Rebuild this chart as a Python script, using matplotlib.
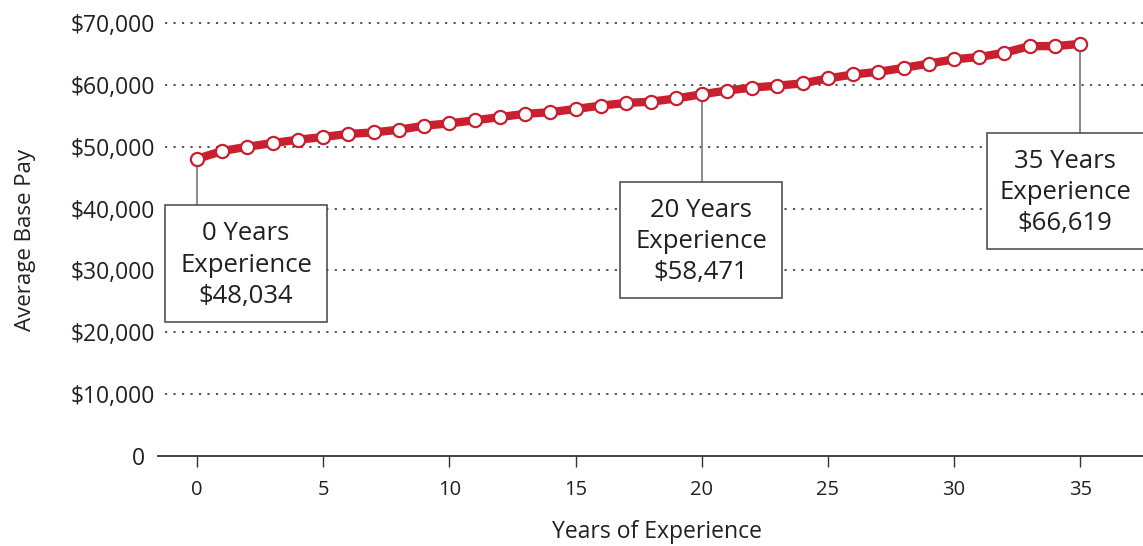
import matplotlib
matplotlib.use("Agg")
import matplotlib.pyplot as plt
from matplotlib.patches import Rectangle
from matplotlib.transforms import ScaledTranslation

years = list(range(0, 36))
pay = [48034, 49310, 50000, 50590, 51130, 51570, 52070, 52310, 52750, 53390,
       53780, 54260, 54790, 55310, 55580, 56100, 56640, 57070, 57280, 57810,
       58471, 59080, 59560, 59870, 60240, 61040, 61680, 62110, 62740, 63430,
       64130, 64500, 65190, 66270, 66260, 66619]
ytick_vals = [0, 10000, 20000, 30000, 40000, 50000, 60000, 70000]
ytick_labels = ["0", "$10,000", "$20,000", "$30,000", "$40,000", "$50,000", "$60,000", "$70,000"]
xtick_vals = [0, 5, 10, 15, 20, 25, 30, 35]
callout_years = [0, 20, 35]

plt.rcParams['font.family'] = ['Open Sans', 'DejaVu Sans']
TXT = '#231f20'
RED = '#c8202f'

W, H = 1143, 546
fig = plt.figure(figsize=(W / 100, H / 100), dpi=100)
ax = fig.add_axes([158 / W, 90 / H, 1 - 158 / W, 1 - 90 / H])
ax.set_xlim(-1.546, 37.49)
ax.set_ylim(0, 73718)

for s in ['top', 'right', 'left']:
    ax.spines[s].set_visible(False)
ax.spines['bottom'].set_color('#333333')
ax.spines['bottom'].set_linewidth(1.3)

ax.set_xticks(xtick_vals)
ax.set_xticklabels([str(v) for v in xtick_vals])
ax.tick_params(axis='x', direction='out', length=8, width=1, color='#333333',
               labelsize=14.5, labelcolor=TXT, pad=9)
ax.set_yticks(ytick_vals)
ax.set_yticklabels(ytick_labels)
ax.tick_params(axis='y', length=0, labelsize=16.5, labelcolor=TXT, pad=2)
zero_lbl = ax.get_yticklabels()[0]
zero_lbl.set_transform(zero_lbl.get_transform() + ScaledTranslation(-0.10, 0, fig.dpi_scale_trans))

ax.hlines(ytick_vals[1:], -1.27, 37.6, colors='#444444', linestyles=(0, (1.2, 3.5)),
          linewidth=1.3, zorder=1)

ax.set_xlabel("Years of Experience", fontsize=16.5, color=TXT)
ax.set_ylabel("Average Base Pay", fontsize=16, color=TXT)
ax.xaxis.set_label_coords(0.5066, -0.141)
ax.yaxis.set_label_coords(-0.124, 0.474)

ax.plot(years, pay, color=RED, lw=6, zorder=5, solid_capstyle='round', clip_on=False)
ax.plot(years, pay, ls='none', marker='o', ms=9.5, mfc='white', mec=RED, mew=1.6,
        zorder=6, clip_on=False)

# callout boxes: (x_left, x_right, y_bottom, y_top) in data units
boxes = {0: (-1.27, 5.15, 21660, 40575),
         20: (16.77, 23.19, 25540, 44290),
         35: (31.31, 37.7, 33460, 52215)}
for yr in callout_years:
    val = pay[yr]
    x0, x1, y0, y1 = boxes[yr]
    ax.plot([yr, yr], [y1, val], color='#777777', lw=1.2, zorder=3)
    ax.add_patch(Rectangle((x0, y0), x1 - x0, y1 - y0, facecolor='white',
                           edgecolor='#444444', lw=1.1, zorder=4, clip_on=False))
    cx = (x0 + min(x1, 37.49)) / 2 if yr == 35 else (x0 + x1) / 2
    ax.text(cx, (y0 + y1) / 2 - 250, f"{yr} Years\nExperience\n${val:,}", ha='center',
            va='center', fontsize=18.5, color=TXT, linespacing=1.32, zorder=7)

fig.savefig("out.png", dpi=100)
